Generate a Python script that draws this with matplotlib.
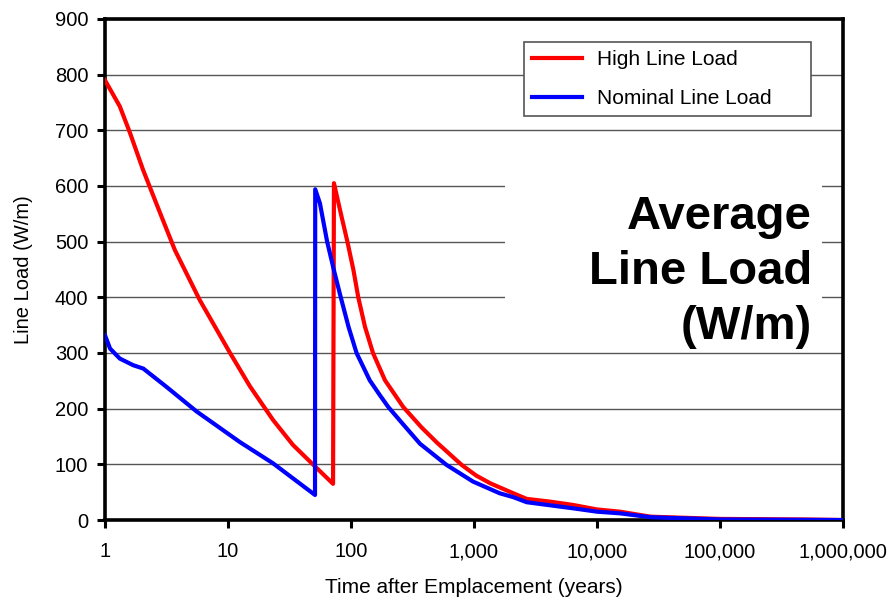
import matplotlib
matplotlib.use("Agg")
import matplotlib.pyplot as plt
import matplotlib.ticker as mticker
import matplotlib.transforms as mtransforms
from matplotlib.patches import Rectangle

plt.rcParams["font.family"] = ["Liberation Sans", "DejaVu Sans"]

# high line load (years, W/m)
high_years = [1, 1.32, 1.6, 2.04, 2.8, 3.7, 5.9, 10.4, 15.1, 23.2, 33.7, 49, 71.5,
              72.7, 82.6, 93.5, 104.7, 114.6, 130, 151, 189, 266, 376, 500,
              794, 1040, 1355, 2090, 2680, 4170, 6410, 10000, 15400, 27300,
              100000, 500000, 1000000]
high_load = [790, 743, 695, 629, 552, 485, 395, 300, 240, 180, 135, 100, 65,
             605, 551, 500, 449, 400, 347, 300, 251, 203, 166, 139,
             99, 80, 66, 48, 38, 33, 27, 19, 15, 6,
             2, 1, 0]

# nominal line load (years, W/m)
nom_years = [1, 1.1, 1.32, 1.7, 2.05, 3.17, 5.56, 12.5, 23.2, 51,
             51.2, 55.9, 64, 72.6, 82.6, 95.5, 111, 142, 172, 201, 270, 364,
             598, 983, 1620, 2090, 2680, 6410, 10000, 15400, 27300,
             100000, 1000000]
nom_load = [332, 308, 290, 278, 272, 239, 195, 140, 102, 45,
            594, 569, 500, 449, 400, 347, 300, 251, 224, 203, 170, 137,
            99, 69, 48, 41, 32, 21, 15, 12, 5,
            1, 0]

y_ticks = list(range(0, 1000, 100))
x_ticks = [1, 10, 100, 1000, 10000, 100000, 1000000]

fig = plt.figure(figsize=(8.94, 6.03), dpi=100)
ax = fig.add_axes([0.1174, 0.1376, 0.8256, 0.831])

ax.plot(high_years, high_load, color="#ff0000", lw=3, label="High Line Load", zorder=3)
ax.plot(nom_years, nom_load, color="#0000ff", lw=3, label="Nominal Line Load", zorder=3)

ax.set_xscale("log")
ax.set_xlim(1, 1000000)
ax.set_ylim(0, 900)
ax.set_xticks(x_ticks)
ax.xaxis.set_major_formatter(mticker.FuncFormatter(lambda v, p: f"{int(round(v)):,}"))
ax.xaxis.set_minor_locator(mticker.NullLocator())
ax.set_yticks(y_ticks)

ax.grid(axis="y", color="#555555", lw=1)
ax.set_axisbelow(True)
for s in ax.spines.values():
    s.set_linewidth(2.6)
ax.tick_params(axis="both", length=6, width=2.2, labelsize=14.5, direction="out")
ax.tick_params(axis="y", pad=6)
ax.tick_params(axis="x", pad=10)

ax.set_xlabel("Time after Emplacement (years)", fontsize=15, labelpad=12)
ax.set_ylabel("Line Load (W/m)", fontsize=14.5, labelpad=16)

# white block behind the big label hides the gridlines
trans = mtransforms.blended_transform_factory(ax.transAxes, ax.transData)
ax.add_patch(Rectangle((0.542, 330), 0.43, 310, transform=trans,
                       facecolor="white", edgecolor="none", zorder=1))
ax.text(0.958, 445, "Average\nLine Load\n(W/m)", transform=trans,
        ha="right", va="center", multialignment="right",
        fontsize=34, fontweight="bold", linespacing=1.32, zorder=2)

leg = ax.legend(loc="upper left", bbox_to_anchor=(0.5678, 0.5, 0.3889, 0.454),
                mode="expand", borderaxespad=0, fontsize=15,
                fancybox=False, framealpha=1, edgecolor="#555555",
                handlelength=2.4, handletextpad=0.7, borderpad=0.4, labelspacing=0.95)
leg.get_frame().set_linewidth(1.2)

fig.savefig("out.png", dpi=100)
